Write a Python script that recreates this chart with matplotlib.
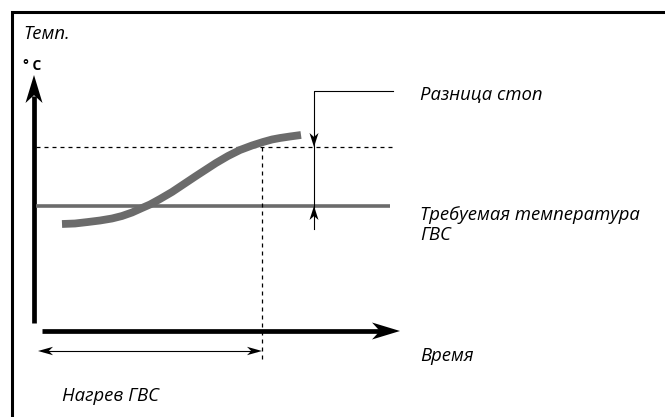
import matplotlib.pyplot as plt
from matplotlib.patches import Polygon
import numpy as np

# water temperature while heating (x = time, y = temperature, drawing units, y grows downward)
curve_t = [62, 75, 88, 100, 112, 122, 132, 142, 150, 160, 172, 184,
           196, 206, 216, 228, 240, 252, 263, 272, 280, 290, 301]
curve_temp = [224, 223.5, 222, 220.5, 218.5, 216, 212.5, 208, 204.5, 199, 192, 184,
              176, 169.5, 163, 156, 150, 145.5, 142, 139.5, 138, 136.5, 135]

set_temp = 206      # required DHW temperature
stop_temp = 147     # set + stop difference
t_stop = 262        # moment heating stops
t_start = 38

labels = {
    'temp': 'Темп.',
    'unit': '° C',
    'diff': 'Разница стоп',
    'set': ['Требуемая температура', 'ГВС'],
    'time': 'Время',
    'heat': 'Нагрев ГВС',
}

GRAY = '#6b6b6b'
FONT = ['Open Sans', 'DejaVu Sans']


def head(ax, tip, d, length, half_w, back=0.72):
    # concave arrowhead pointing along d with its tip at tip
    tip = np.array(tip, float)
    d = np.array(d, float) / np.hypot(*d)
    p = np.array([-d[1], d[0]])
    base = tip - d * length
    pts = [tip, base + p * half_w, tip - d * length * back, base - p * half_w]
    ax.add_patch(Polygon(pts, closed=True, fc='k', ec='none', zorder=5))


fig = plt.figure(figsize=(6.65, 4.17), dpi=100)
ax = fig.add_axes([0, 0, 1, 1])
ax.set_xlim(0, 665)
ax.set_ylim(417, 0)
ax.axis('off')

# frame (left and top edges)
ax.plot([11.5, 11.5, 665], [417, 11.5, 11.5], color='k', lw=2.2, solid_joinstyle='miter')

# axes arrows
ax.plot([34, 34], [323, 96], color='k', lw=3.4, solid_capstyle='butt')
head(ax, (34, 75), (0, -1), 28, 8.5)
ax.plot([42, 380], [331, 331], color='k', lw=3.4, solid_capstyle='butt')
head(ax, (400, 331), (1, 0), 28, 8.5)

# levels
ax.plot([36, 393], [stop_temp, stop_temp], color='k', lw=0.9, dashes=(3.2, 3.2))
ax.plot([36, 390], [set_temp, set_temp], color=GRAY, lw=2.6, solid_capstyle='butt')
ax.plot([t_stop, t_stop], [stop_temp, 363], color='k', lw=0.9, dashes=(3.2, 3.2))

# temperature curve
ax.plot(curve_t, curve_temp, color=GRAY, lw=5.6, solid_capstyle='butt',
        solid_joinstyle='round', zorder=4)

# stop difference marker
ax.plot([393, 314, 314], [91, 91, 229], color='k', lw=0.8)
head(ax, (314, stop_temp), (0, 1), 14, 4.5)
head(ax, (314, set_temp), (0, -1), 14, 4.5)

# heating period
ax.plot([t_start + 5, t_stop - 5], [351, 351], color='k', lw=0.8)
head(ax, (t_start, 351), (-1, 0), 15, 4.2)
head(ax, (t_stop, 351), (1, 0), 15, 4.2)

txt = dict(family=FONT, style='italic', fontsize=13.3, va='baseline', ha='left')
ax.text(23, 39, labels['temp'], **txt)
ax.text(23, 70, labels['unit'], family=FONT, fontweight='bold', fontsize=10,
        va='baseline', ha='left')
ax.text(420, 100, labels['diff'], **txt)
ax.text(420, 220, labels['set'][0], **txt)
ax.text(420, 240, labels['set'][1], **txt)
ax.text(420, 361, labels['time'], **txt)
ax.text(62, 401, labels['heat'], **txt)

fig.savefig('out.png', dpi=100)
